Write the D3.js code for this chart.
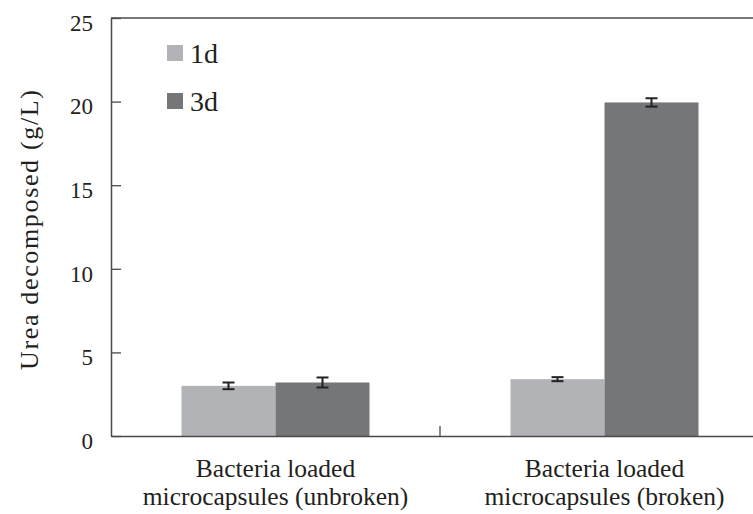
<!DOCTYPE html>
<html>
<head>
<meta charset="utf-8">
<script src="https://cdn.jsdelivr.net/npm/d3@7"></script>
<style>
  body { margin: 0; background: #fff; }
  svg text { fill: #231f20; }
</style>
</head>
<body>
<svg id="chart" width="753" height="514"></svg>
<script>
var categories = ["Bacteria loaded|microcapsules (unbroken)", "Bacteria loaded|microcapsules (broken)"];
var series = ["1d", "3d"];
var colors = ["#b2b3b6", "#757678"];
var values1d = [3.0, 3.4];
var values3d = [3.2, 19.95];
var errors1d = [0.2, 0.12];
var errors3d = [0.3, 0.25];
var yTicks = [0, 5, 10, 15, 20, 25];

var serif = "Liberation Serif, DejaVu Serif, Times, serif";
var svg = d3.select("#chart").style("font-family", serif);

var margin = { top: 18, left: 111, bottom: 78 },
    height = 514 - margin.top - margin.bottom;

// plot area runs past the right edge of the picture
var x0 = d3.scaleBand()
    .domain(categories)
    .range([margin.left, margin.left + 658]);

var groupW = 188;
var x1 = d3.scaleBand()
    .domain(series)
    .range([(x0.bandwidth() - groupW) / 2, (x0.bandwidth() + groupW) / 2]);

var y = d3.scaleLinear()
    .domain([0, 25])
    .range([margin.top + height, margin.top]);

var rows = categories.map(function (c, i) {
    return [
        { cat: c, s: "1d", v: values1d[i], e: errors1d[i] },
        { cat: c, s: "3d", v: values3d[i], e: errors3d[i] }
    ];
});
var color = d3.scaleOrdinal().domain(series).range(colors);

// bars
var groups = svg.selectAll("g.grp")
    .data(rows)
    .enter().append("g")
    .attr("class", "grp")
    .attr("transform", function (d) { return "translate(" + x0(d[0].cat) + ",0)"; });

groups.selectAll("rect")
    .data(function (d) { return d; })
    .enter().append("rect")
    .attr("x", function (d) { return x1(d.s); })
    .attr("width", x1.bandwidth())
    .attr("y", function (d) { return y(d.v); })
    .attr("height", function (d) { return y(0) - y(d.v); })
    .attr("fill", function (d) { return color(d.s); });

// error bars
var eb = groups.selectAll("g.err")
    .data(function (d) { return d; })
    .enter().append("g")
    .attr("class", "err")
    .attr("stroke", "#222")
    .attr("stroke-width", 2)
    .attr("transform", function (d) { return "translate(" + (x1(d.s) + x1.bandwidth() / 2) + ",0)"; });

eb.append("line")
    .attr("y1", function (d) { return y(d.v - d.e); })
    .attr("y2", function (d) { return y(d.v + d.e); });
eb.append("line")
    .attr("x1", -6).attr("x2", 6)
    .attr("y1", function (d) { return y(d.v - d.e); })
    .attr("y2", function (d) { return y(d.v - d.e); });
eb.append("line")
    .attr("x1", -6).attr("x2", 6)
    .attr("y1", function (d) { return y(d.v + d.e); })
    .attr("y2", function (d) { return y(d.v + d.e); });

// y axis, ticks pointing inward
var yAxis = svg.append("g")
    .attr("transform", "translate(" + margin.left + ",0)")
    .call(d3.axisRight(y).tickValues(yTicks).tickSize(10).tickSizeOuter(0));
yAxis.attr("font-family", null);
yAxis.select(".domain").attr("stroke", "#4a4a4a").attr("stroke-width", 1.5);
yAxis.selectAll(".tick line").attr("stroke", "#4a4a4a").attr("stroke-width", 1.3);
yAxis.selectAll(".tick text")
    .attr("x", -18)
    .attr("y", 4)
    .attr("dy", "0.36em")
    .attr("text-anchor", "end")
    .style("font-size", "23px")
    .style("font-family", serif)
    .attr("fill", "#231f20");

// top frame line
svg.append("line")
    .attr("x1", margin.left).attr("x2", 753)
    .attr("y1", y(25)).attr("y2", y(25))
    .attr("stroke", "#4a4a4a").attr("stroke-width", 1.5);

// x axis
var xAxis = svg.append("g")
    .attr("transform", "translate(0," + y(0) + ")")
    .call(d3.axisBottom(x0).tickSize(0).tickSizeOuter(0).tickFormat(""));
xAxis.select(".domain").attr("stroke", "#4a4a4a").attr("stroke-width", 1.5);

// category separator tick
svg.append("line")
    .attr("x1", x0(categories[1])).attr("x2", x0(categories[1]))
    .attr("y1", y(0)).attr("y2", y(0) - 10)
    .attr("stroke", "#4a4a4a").attr("stroke-width", 1.3);

// category labels
categories.forEach(function (c) {
    var t = svg.append("text")
        .attr("text-anchor", "middle")
        .attr("x", x0(c) + x0.bandwidth() / 2)
        .attr("y", 477)
        .style("font-family", serif)
        .style("font-size", "25.5px");
    c.split("|").forEach(function (line, i) {
        t.append("tspan")
            .attr("x", x0(c) + x0.bandwidth() / 2)
            .attr("dy", i === 0 ? 0 : 28)
            .text(line);
    });
});

// y title
svg.append("text")
    .attr("transform", "translate(38," + 230 + ") rotate(-90)")
    .attr("text-anchor", "middle")
    .style("font-family", serif)
    .style("font-size", "26px")
    .attr("textLength", 280)
    .attr("lengthAdjust", "spacing")
    .text("Urea decomposed (g/L)");

// legend
var legend = svg.selectAll("g.leg")
    .data(series)
    .enter().append("g")
    .attr("class", "leg")
    .attr("transform", function (d, i) { return "translate(167," + (45 + i * 48) + ")"; });
legend.append("rect")
    .attr("width", 16).attr("height", 16)
    .attr("fill", function (d) { return color(d); });
legend.append("text")
    .attr("x", 23).attr("y", 18)
    .style("font-family", serif)
    .style("font-size", "28px")
    .text(function (d) { return d; });
</script>
</body>
</html>
